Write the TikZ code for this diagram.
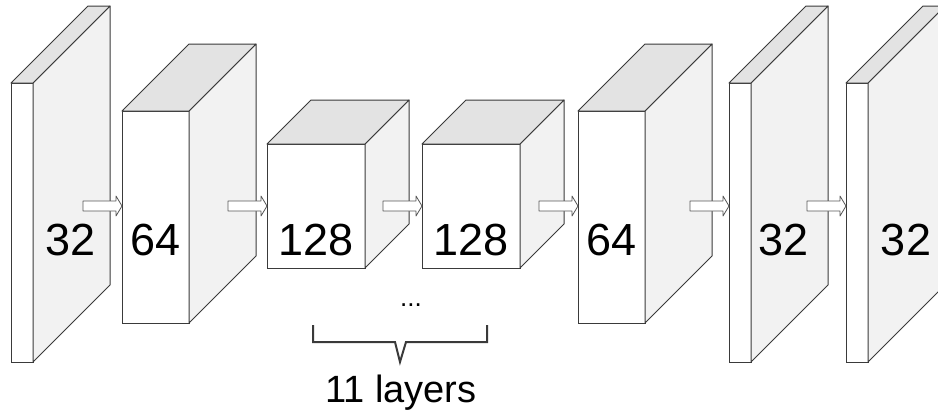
\documentclass[tikz,border=0pt]{standalone}
\usepackage{fontspec}
\setmainfont{Liberation Sans}
\usetikzlibrary{positioning,calc}

\definecolor{edge}{HTML}{3A3A3A}
\definecolor{sidegray}{HTML}{F2F2F2}
\definecolor{topgray}{HTML}{E3E3E3}

\begin{document}
\begin{tikzpicture}[x=1pt, y=-1pt,
    frontface/.style={draw=edge, fill=white, line width=1pt, inner sep=0pt, outer sep=0pt, anchor=north west},
    sideface/.style={draw=edge, fill=sidegray, line width=1pt, line join=round},
    topface/.style={draw=edge, fill=topgray, line width=1pt, line join=round},
    num/.style={font=\fontsize{45}{54}\selectfont, inner sep=0pt},
    note/.style={font=\fontsize{38}{44}\selectfont, inner sep=0pt, anchor=base},
    flow/.style={draw=edge!85, fill=white, line width=0.8pt, line join=round},
    brace/.style={draw=edge, line width=2pt, line join=miter}
]
    \useasboundingbox (0,0) rectangle (938,416);
    \clip (0,0) rectangle (938,416);

    % first 32 plane
    \node[frontface, minimum width=22pt, minimum height=279pt] (blka) at (11,83) {};
    \draw[sideface] (blka.north east) -- ++(77,-77) -- ++(0,279) -- (blka.south east) -- cycle;
    \draw[topface] (blka.north west) -- ++(77,-77) -- ++(22,0) -- (blka.north east) -- cycle;

    % 64
    \node[frontface, minimum width=67pt, minimum height=212pt] (blkb) at (122,111) {};
    \draw[sideface] (blkb.north east) -- ++(67,-67) -- ++(0,212) -- (blkb.south east) -- cycle;
    \draw[topface] (blkb.north west) -- ++(67,-67) -- ++(67,0) -- (blkb.north east) -- cycle;

    % the two 128 cubes
    \node[frontface, minimum width=98pt, minimum height=124pt] (blkc) at (267,144) {};
    \draw[sideface] (blkc.north east) -- ++(44,-44) -- ++(0,124) -- (blkc.south east) -- cycle;
    \draw[topface] (blkc.north west) -- ++(44,-44) -- ++(98,0) -- (blkc.north east) -- cycle;

    \node[frontface, minimum width=98pt, minimum height=124pt] (blkd) at (422,144) {};
    \draw[sideface] (blkd.north east) -- ++(44,-44) -- ++(0,124) -- (blkd.south east) -- cycle;
    \draw[topface] (blkd.north west) -- ++(44,-44) -- ++(98,0) -- (blkd.north east) -- cycle;

    % 64 again
    \node[frontface, minimum width=67pt, minimum height=212pt] (blke) at (578,111) {};
    \draw[sideface] (blke.north east) -- ++(67,-67) -- ++(0,212) -- (blke.south east) -- cycle;
    \draw[topface] (blke.north west) -- ++(67,-67) -- ++(67,0) -- (blke.north east) -- cycle;

    % last two 32 planes
    \node[frontface, minimum width=22pt, minimum height=279pt] (blkf) at (729,83) {};
    \draw[sideface] (blkf.north east) -- ++(77,-77) -- ++(0,279) -- (blkf.south east) -- cycle;
    \draw[topface] (blkf.north west) -- ++(77,-77) -- ++(22,0) -- (blkf.north east) -- cycle;

    \node[frontface, minimum width=22pt, minimum height=279pt] (blkg) at (846,83) {};
    \draw[sideface] (blkg.north east) -- ++(77,-77) -- ++(0,279) -- (blkg.south east) -- cycle;
    \draw[topface] (blkg.north west) -- ++(77,-77) -- ++(22,0) -- (blkg.north east) -- cycle;

    % channel counts
    \node[num] (numa) at (71,240) {32};
    \node[num] (numb) at (blkb.center |- 0,240) {64};
    \node[num] (numc) at (blkc.center |- 0,240) {128};
    \node[num] (numd) at (blkd.center |- 0,240) {128};
    \node[num] (nume) at (blke.center |- 0,240) {64};
    \node[num] (numf) at (784,240) {32};
    \node[num] (numg) at (906,240) {32};

    % block arrows, tip on the next front face
    \draw[flow] (blkb.west |- 0,206) -- ++(-6,-10) -- ++(0,5) -- ++(-33,0) -- ++(0,10) -- ++(33,0) -- ++(0,5) -- cycle;
    \draw[flow] (blkc.west |- 0,206) -- ++(-6,-10) -- ++(0,5) -- ++(-33,0) -- ++(0,10) -- ++(33,0) -- ++(0,5) -- cycle;
    \draw[flow] (blkd.west |- 0,206) -- ++(-6,-10) -- ++(0,5) -- ++(-33,0) -- ++(0,10) -- ++(33,0) -- ++(0,5) -- cycle;
    \draw[flow] (blke.west |- 0,206) -- ++(-6,-10) -- ++(0,5) -- ++(-33,0) -- ++(0,10) -- ++(33,0) -- ++(0,5) -- cycle;
    \draw[flow] (blkf.west |- 0,206) -- ++(-6,-10) -- ++(0,5) -- ++(-33,0) -- ++(0,10) -- ++(33,0) -- ++(0,5) -- cycle;
    \draw[flow] (blkg.west |- 0,206) -- ++(-6,-10) -- ++(0,5) -- ++(-33,0) -- ++(0,10) -- ++(33,0) -- ++(0,5) -- cycle;

    % repeated layers
    \node[note, font=\fontsize{26}{30}\selectfont] (dots) at (411,306) {...};
    \draw[brace] (313,325) -- (313,342) -- (395,342) -- (400,362) -- (406,342) -- (487,342) -- (487,325);
    \node[note] (count) at (401,402) {11 layers};
\end{tikzpicture}
\end{document}
